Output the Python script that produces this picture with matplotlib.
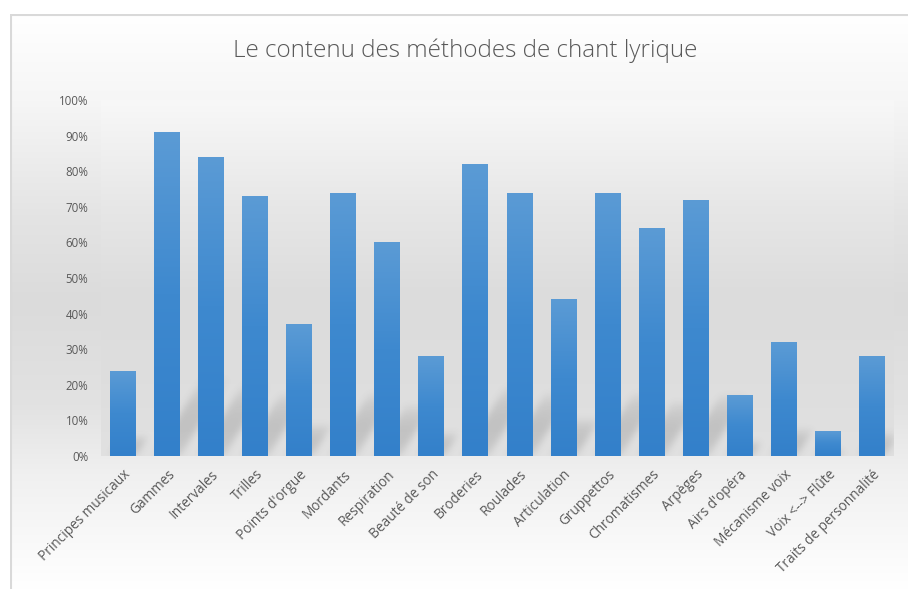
import matplotlib
matplotlib.use("Agg")
import matplotlib.pyplot as plt
import numpy as np
from matplotlib.colors import LinearSegmentedColormap
from matplotlib.ticker import FuncFormatter

categories = ["Principes musicaux", "Gammes", "Intervales", "Trilles",
              "Points d'orgue", "Mordants", "Respiration", "Beauté de son",
              "Broderies", "Roulades", "Articulation", "Gruppettos",
              "Chromatismes", "Arpèges", "Airs d'opéra", "Mécanisme voix",
              "Voix <--> Flûte", "Traits de personnalité"]
values = [0.24, 0.91, 0.84, 0.73, 0.37, 0.74, 0.60, 0.28, 0.82, 0.74,
          0.44, 0.74, 0.64, 0.72, 0.17, 0.32, 0.07, 0.28]
yticks = np.arange(0, 1.01, 0.1)
title = "Le contenu des méthodes de chant lyrique"

W, H = 908, 589
TXT = "#595959"
plt.rcParams['font.family'] = ['Open Sans', 'DejaVu Sans']


def vgrad(stops, n=600):
    # stops: (position from top 0..1, grey level)
    pos = np.array([s[0] for s in stops])
    lev = np.array([s[1] for s in stops]) / 255.0
    g = np.interp(np.linspace(0, 1, n), pos, lev)
    return np.stack([g, g, g], axis=-1).reshape(n, 1, 3)


def main():
    fig = plt.figure(figsize=(W / 100, H / 100), dpi=100)
    fig.patch.set_facecolor("white")

    # chart area background (starts at x=10, y=14)
    bg = fig.add_axes([10 / W, 0, (W - 10) / W, (H - 14) / H], zorder=-5)
    bg.imshow(vgrad([(0, 255), (0.15, 246), (0.35, 228), (0.5, 219),
                     (0.68, 226), (0.8, 240), (1.0, 255)]),
              aspect="auto", extent=[0, 1, 0, 1], interpolation="bilinear")
    bg.set_xlim(0, 1)
    bg.set_ylim(0, 1)
    bg.axis("off")
    bg.plot([0.0008, 0.0008], [0, 1], color="#d9d9d9", lw=1.5,
            solid_capstyle="butt")
    bg.plot([0, 1], [0.9985, 0.9985], color="#d9d9d9", lw=1.5,
            solid_capstyle="butt")

    n = len(categories)
    ax = fig.add_axes([101 / W, (H - 456) / H, 793 / W, 356 / H])
    x = np.arange(n)
    ax.set_xlim(-0.5, n - 0.5)
    ax.set_ylim(0, 1)

    # plot area background
    ax.imshow(vgrad([(0, 248), (0.3, 231), (0.55, 220), (0.8, 222),
                     (1.0, 225)]),
              aspect="auto", extent=[-0.5, n - 0.5, 0, 1],
              interpolation="bilinear", zorder=0)

    width = 0.59
    # diagonal cast shadows behind bars
    nx, ny = 793, 356
    px_per_x = nx / n
    gx = -0.5 + (np.arange(nx) + 0.5) / nx * n
    gy = (np.arange(ny) + 0.5) / ny
    XX, YY = np.meshgrid(gx, gy)
    k = 0.24
    slope = 1.6  # vertical px per horizontal px
    shift = YY * ny / slope / px_per_x
    alpha = np.zeros_like(XX)
    for xi, v in zip(x, values):
        top = k * v
        inside = ((XX >= xi - width / 2 + shift) &
                  (XX <= xi + width / 2 + shift) & (YY <= top))
        prof = np.clip(YY / max(top, 1e-6), 0, 1)
        a = 0.2 * np.sin(np.pi * (0.15 + 0.85 * prof)) ** 0.6
        alpha = np.maximum(alpha, np.where(inside, a, 0))
    sig = 3.5
    kx = np.arange(-12, 13)
    ker = np.exp(-kx ** 2 / (2 * sig ** 2))
    ker /= ker.sum()
    alpha = np.apply_along_axis(lambda r: np.convolve(r, ker, mode="same"),
                                1, alpha)
    alpha = np.apply_along_axis(lambda c: np.convolve(c, ker, mode="same"),
                                0, alpha)
    shadow = np.zeros((ny, nx, 4))
    shadow[..., :3] = 0.3
    shadow[..., 3] = alpha
    ax.imshow(shadow, origin="lower", aspect="auto",
              extent=[-0.5, n - 0.5, 0, 1], zorder=1,
              interpolation="bilinear")

    # bars with vertical gradient
    bars = ax.bar(x, values, width=width, color="#4a8fd2", zorder=2)
    cmap = LinearSegmentedColormap.from_list("b", ["#3380ca", "#3e89cf",
                                                  "#5b9bd5"])
    grad = np.linspace(0, 1, 256).reshape(-1, 1)
    for b in bars:
        bx, bw, bh = b.get_x(), b.get_width(), b.get_height()
        im = ax.imshow(grad, cmap=cmap, origin="lower", aspect="auto",
                       extent=[bx, bx + bw, 0, bh], zorder=3,
                       interpolation="bilinear")
        im.set_clip_path(b)

    ax.set_xlim(-0.5, n - 0.5)
    ax.set_ylim(0, 1)
    ax.set_yticks(yticks)
    ax.yaxis.set_major_formatter(FuncFormatter(lambda v, p: f"{v:.0%}"))
    ax.set_xticks(x)
    ax.set_xticklabels(categories, rotation=45, ha="right",
                       rotation_mode="anchor")
    ax.tick_params(length=0, colors=TXT)
    ax.tick_params(axis="y", labelsize=8.3, pad=9)
    ax.tick_params(axis="x", labelsize=9.8, pad=8)
    for s in ax.spines.values():
        s.set_visible(False)

    fig.text(465 / W, 1 - 51 / H, title, ha="center", va="center",
             fontsize=17.5, color=TXT, fontweight="light")

    fig.savefig("out.png", dpi=100)


main()
